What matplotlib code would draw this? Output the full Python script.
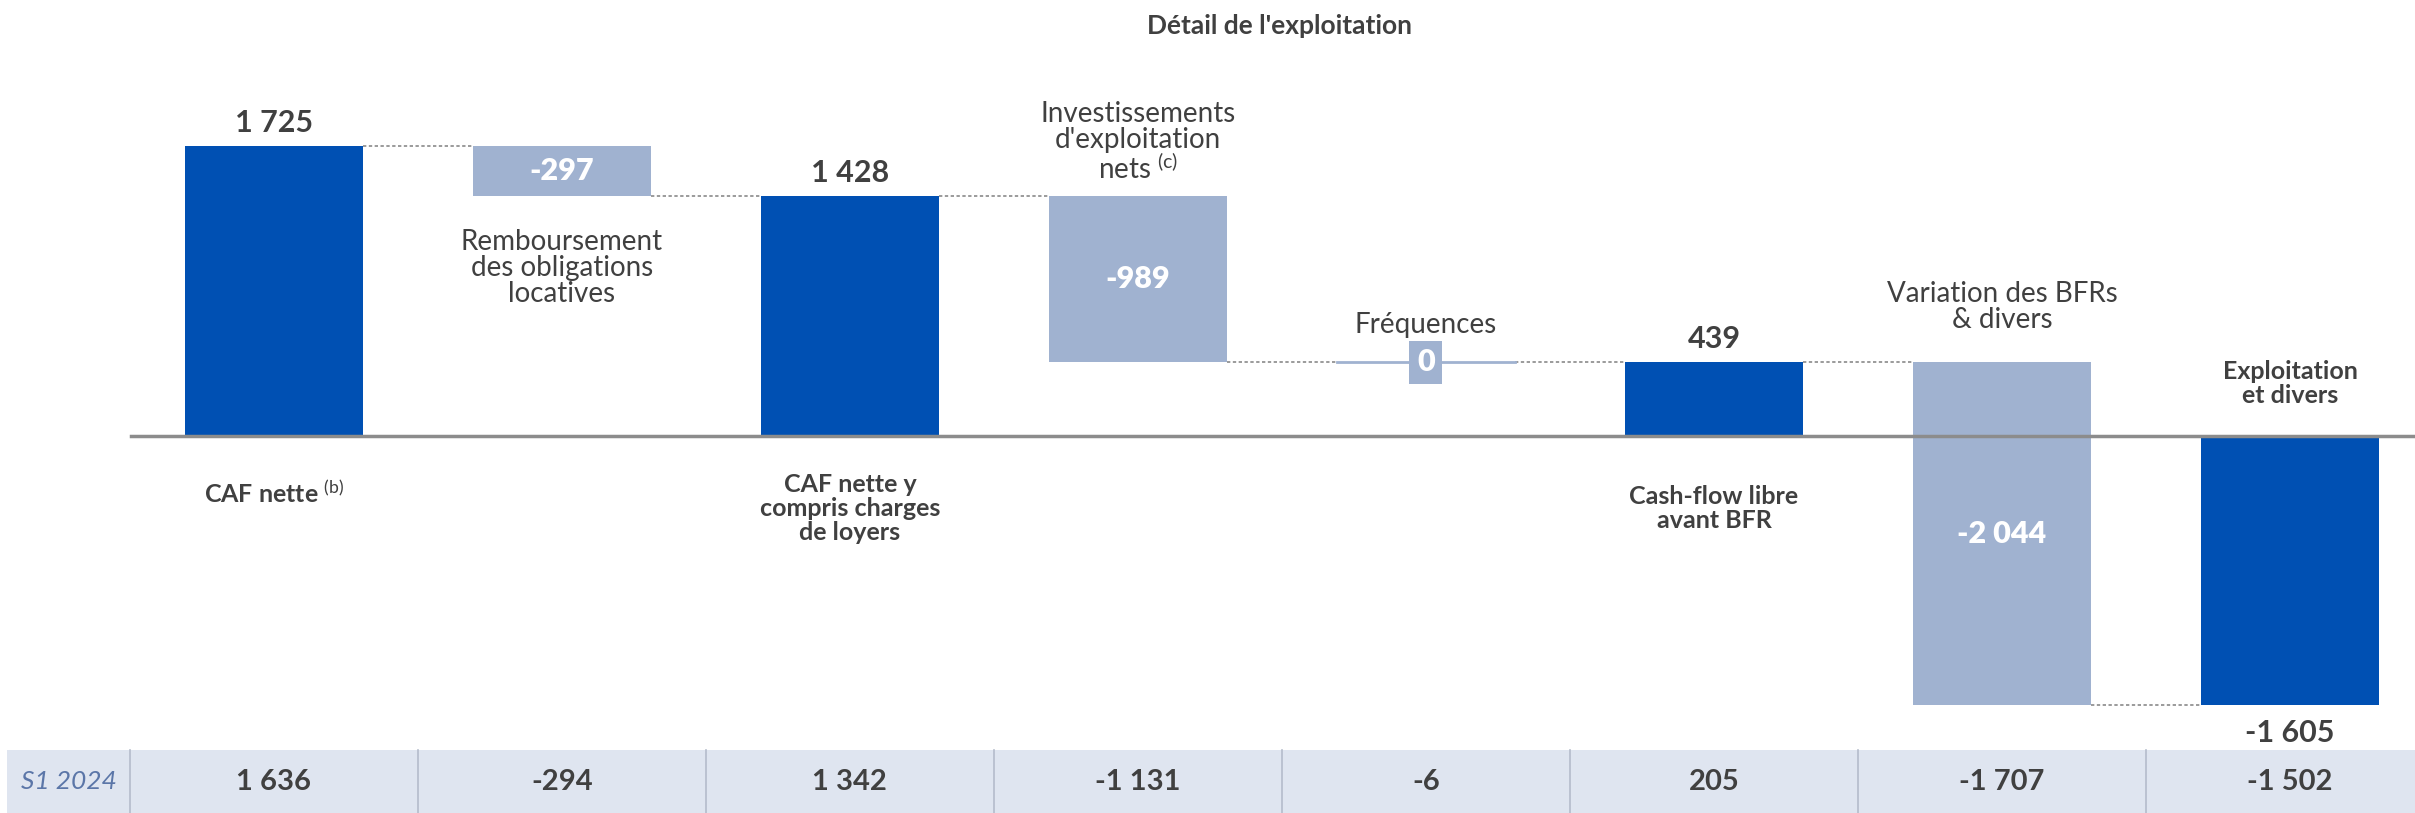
from matplotlib import pyplot as plt
from matplotlib.transforms import blended_transform_factory
import numpy as np

plt.rcParams['font.family'] = ['Lato', 'DejaVu Sans']
plt.rcParams['mathtext.fontset'] = 'custom'
plt.rcParams['mathtext.rm'] = 'Lato'
plt.rcParams['mathtext.it'] = 'Lato:italic'
plt.rcParams['mathtext.bf'] = 'Lato:bold'

# data
labels = ["CAF nette $^{\\mathrm{(b)}}$",
          "Remboursement\ndes obligations\nlocatives",
          "CAF nette y\ncompris charges\nde loyers",
          "Investissements\nd'exploitation\nnets $^{\\mathrm{(c)}}$",
          "Fréquences",
          "Cash-flow libre\navant BFR",
          "Variation des BFRs\n& divers",
          "Exploitation\net divers"]
values = [1725, -297, 1428, -989, 0, 439, -2044, -1605]
is_total = [True, False, True, False, False, True, False, True]
value_txt = ["1 725", "-297", "1 428", "-989", "0", "439", "-2 044", "-1 605"]
prev_label = "S1 2024"
prev_values = ["1 636", "-294", "1 342", "-1 131", "-6", "205", "-1 707", "-1 502"]

dark = "#0050b3"
light = "#a0b2d0"
txt = "#404040"

fig = plt.figure(figsize=(24.15, 8.13), dpi=100)
ax = fig.add_axes([0, 0, 1, 1])
ax.set_xlim(-0.951, 7.434)
ax.set_ylim(-2247, 2598)
ax.axis("off")

w = 0.62
x = np.arange(len(values))
running = 0
bottoms = []
tops = []
for i, v in enumerate(values):
    if is_total[i]:
        b, t = 0, v
        running = v
    else:
        b, t = running, running + v
        running = running + v
    bottoms.append(b)
    tops.append(t)
    if is_total[i]:
        ax.bar(x[i], t - b, bottom=b, width=w, color=dark, zorder=2)
    elif v == 0:
        ax.plot([x[i] - w / 2, x[i] + w / 2], [b, b], color=light, lw=2, zorder=2)
    else:
        ax.bar(x[i], t - b, bottom=b, width=w, color=light, zorder=2)

# connectors
for i in range(len(values) - 1):
    lvl = tops[i]
    ax.plot([x[i] + w / 2, x[i + 1] - w / 2], [lvl, lvl], color="#8a8a8a",
            lw=1.2, ls=(0, (2, 1.5)), zorder=1)

# zero line
ax.plot([-0.496, 7.6], [0, 0], color="#8c8c8c", lw=2.5, zorder=3)

# value labels
vfs = 22
ax.text(0, 1725 + 140, value_txt[0], ha="center", va="center", fontsize=vfs,
        fontweight="bold", color=txt)
ax.text(1, 1725 - 297 / 2, value_txt[1], ha="center", va="center", fontsize=vfs,
        fontweight="heavy", color="white")
ax.text(2, 1428 + 140, value_txt[2], ha="center", va="center", fontsize=vfs,
        fontweight="bold", color=txt)
ax.text(3, 1428 - 989 / 2, value_txt[3], ha="center", va="center", fontsize=vfs,
        fontweight="heavy", color="white")
ax.text(4, 439, value_txt[4], ha="center", va="center", fontsize=vfs,
        fontweight="heavy", color="white",
        bbox=dict(boxstyle="square,pad=0.25", fc=light, ec="none"), zorder=4)
ax.text(5, 439 + 140, value_txt[5], ha="center", va="center", fontsize=vfs,
        fontweight="bold", color=txt)
ax.text(6, 439 - 2044 / 2, value_txt[6], ha="center", va="center", fontsize=vfs,
        fontweight="heavy", color="white")
ax.text(7, -1605 - 165, value_txt[7], ha="center", va="center", fontsize=vfs,
        fontweight="bold", color=txt)

# category labels
lfs = 20
bfs = 18
ax.text(0, -340, labels[0], ha="center", va="center", fontsize=bfs,
        fontweight="bold", color=txt)
ax.text(1, 1000, labels[1], ha="center", va="center", fontsize=lfs,
        color=txt, linespacing=1.0)
ax.text(2, -430, labels[2], ha="center", va="center", fontsize=bfs,
        fontweight="bold", color=txt, linespacing=1.05)
ax.text(3, 1750, labels[3], ha="center", va="center", fontsize=lfs,
        color=txt, linespacing=1.0)
ax.text(4, 660, labels[4], ha="center", va="center", fontsize=lfs,
        color=txt)
ax.text(5, -430, labels[5], ha="center", va="center", fontsize=bfs,
        fontweight="bold", color=txt, linespacing=1.05)
ax.text(6, 770, labels[6], ha="center", va="center", fontsize=lfs,
        color=txt, linespacing=1.0)
ax.text(7, 310, labels[7], ha="center", va="center", fontsize=bfs,
        fontweight="bold", color=txt, linespacing=1.05)

# title
fig.text(0.530, 0.968, "Détail de l'exploitation", ha="center", va="center",
         fontsize=19, fontweight="bold", color=txt)

# bottom table
tr = blended_transform_factory(ax.transData, ax.transAxes)
h = 63 / 813
ax.add_patch(plt.Rectangle((-0.927, 0), 8.5, h, transform=tr, fc="#dfe5f0",
                           ec="none", zorder=1))
for k in range(len(values)):
    ax.plot([k - 0.5, k - 0.5], [0, h], transform=tr, color="#b4bccb", lw=1.2,
            zorder=2)
    ax.text(k, h / 2, prev_values[k], transform=tr, ha="center", va="center",
            fontsize=21, fontweight="bold", color=txt)
ax.text(-0.713, h / 2, prev_label, transform=tr, ha="center", va="center",
        fontsize=19, style="italic", color="#5b76a8")

fig.savefig("out.png", dpi=100)
